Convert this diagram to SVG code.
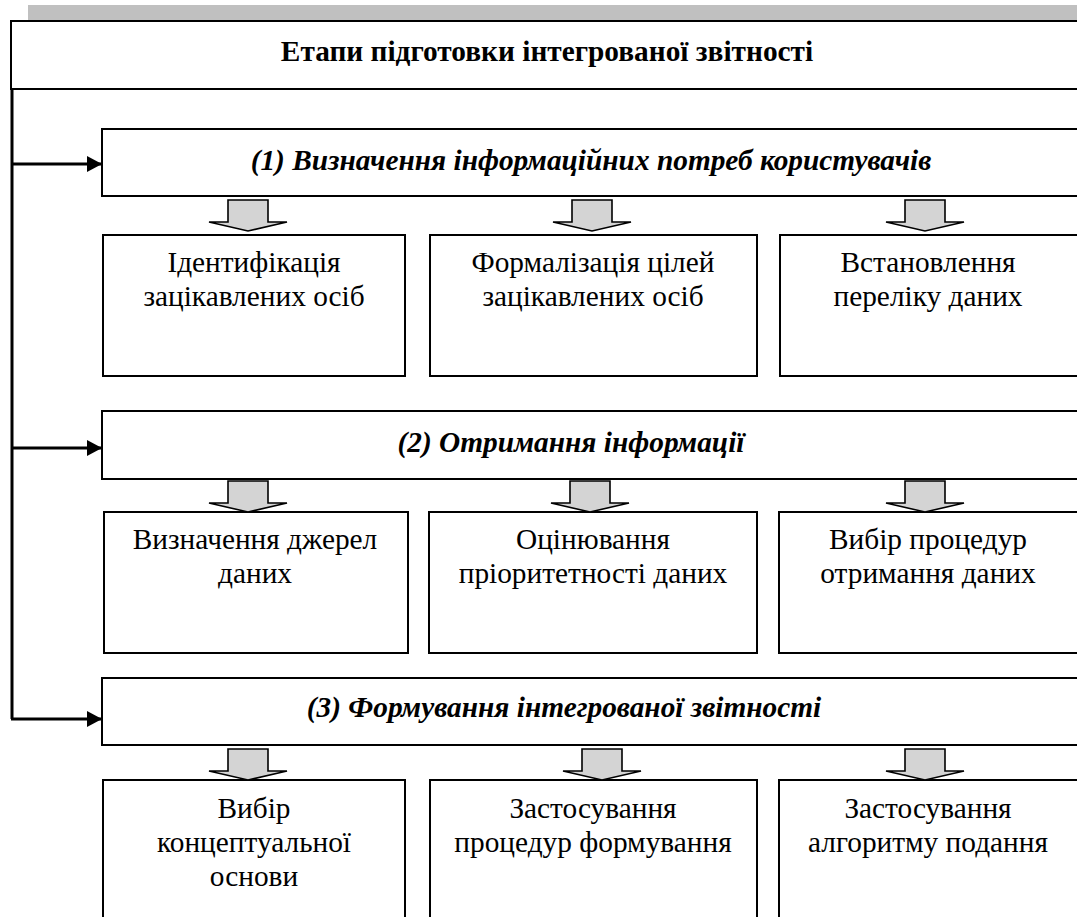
<svg xmlns="http://www.w3.org/2000/svg" width="1077" height="917" viewBox="0 0 1077 917">
<style>
.box{fill:#fff;stroke:#000;stroke-width:2}
.t{font-family:'Liberation Serif','Times New Roman',serif;fill:#000;text-anchor:middle;font-size:29.33px}
.h{font-weight:bold}
.s{font-weight:bold;font-style:italic}
.bar{fill:#c0c0c0}
.conn{fill:none;stroke:#000;stroke-width:3}
.blk{fill:#d4d4d4;stroke:#000;stroke-width:1.6;stroke-linejoin:miter}
</style>
<defs>
<marker id="ah" markerWidth="15" markerHeight="16" refX="15" refY="8" orient="auto" markerUnits="userSpaceOnUse">
<path d="M0,0 L15,8 L0,16 Z" fill="#000"/>
</marker>
<path id="ba" d="M-20,0 L20,0 L20,22 L39,22 L0,31 L-39,22 L-20,22 Z"/>
</defs>
<rect class="bar" x="28" y="5" width="1060" height="15"/>
<g id="header">
<rect class="box" x="11" y="21" width="1080" height="68"/>
<text class="t h" x="547" y="61">Етапи підготовки інтегрованої звітності</text>
</g>
<g id="stage1">
<rect class="box" x="102" y="129" width="990" height="67"/>
<text class="t s" x="591" y="170">(1) Визначення інформаційних потреб користувачів</text>
</g>
<g id="n1a"><rect class="box" x="103" y="235" width="302" height="141"/>
<text class="t" x="254" y="272">Ідентифікація</text><text class="t" x="254" y="306">зацікавлених осіб</text></g>
<g id="n1b"><rect class="box" x="430" y="235" width="327" height="141"/>
<text class="t" x="593" y="272">Формалізація цілей</text><text class="t" x="593" y="306">зацікавлених осіб</text></g>
<g id="n1c"><rect class="box" x="780" y="235" width="310" height="141"/>
<text class="t" x="928" y="272">Встановлення</text><text class="t" x="928" y="306">переліку даних</text></g>
<g id="stage2">
<rect class="box" x="102" y="411" width="990" height="68"/>
<text class="t s" x="571" y="452">(2) Отримання інформації</text>
</g>
<g id="n2a"><rect class="box" x="104" y="512" width="304" height="141"/>
<text class="t" x="255" y="549">Визначення джерел</text><text class="t" x="255" y="583">даних</text></g>
<g id="n2b"><rect class="box" x="429" y="512" width="328" height="141"/>
<text class="t" x="593" y="549">Оцінювання</text><text class="t" x="593" y="583">пріоритетності даних</text></g>
<g id="n2c"><rect class="box" x="779" y="512" width="310" height="141"/>
<text class="t" x="928" y="549">Вибір процедур</text><text class="t" x="928" y="583">отримання даних</text></g>
<g id="stage3">
<rect class="box" x="102" y="678" width="990" height="67"/>
<text class="t s" x="564" y="717">(3) Формування інтегрованої звітності</text>
</g>
<g id="n3a"><rect class="box" x="103" y="780" width="302" height="150"/>
<text class="t" x="254" y="818">Вибір</text><text class="t" x="254" y="852">концептуальної</text><text class="t" x="254" y="886">основи</text></g>
<g id="n3b"><rect class="box" x="430" y="780" width="327" height="150"/>
<text class="t" x="593" y="818">Застосування</text><text class="t" x="593" y="852">процедур формування</text></g>
<g id="n3c"><rect class="box" x="779" y="780" width="310" height="150"/>
<text class="t" x="928" y="818">Застосування</text><text class="t" x="928" y="852">алгоритму подання</text></g>
<g id="connectors">
<path class="conn" d="M12,89 L12,719"/>
<path class="conn" d="M11,164 L102,164" marker-end="url(#ah)"/>
<path class="conn" d="M11,448 L102,448" marker-end="url(#ah)"/>
<path class="conn" d="M11,719 L102,719" marker-end="url(#ah)"/>
<use href="#ba" class="blk" x="248" y="200"/>
<use href="#ba" class="blk" x="592" y="200"/>
<use href="#ba" class="blk" x="925" y="200"/>
<use href="#ba" class="blk" x="248" y="481"/>
<use href="#ba" class="blk" x="590" y="481"/>
<use href="#ba" class="blk" x="925" y="481"/>
<use href="#ba" class="blk" x="248" y="749"/>
<use href="#ba" class="blk" x="602" y="749"/>
<use href="#ba" class="blk" x="925" y="749"/>
</g>
</svg>
